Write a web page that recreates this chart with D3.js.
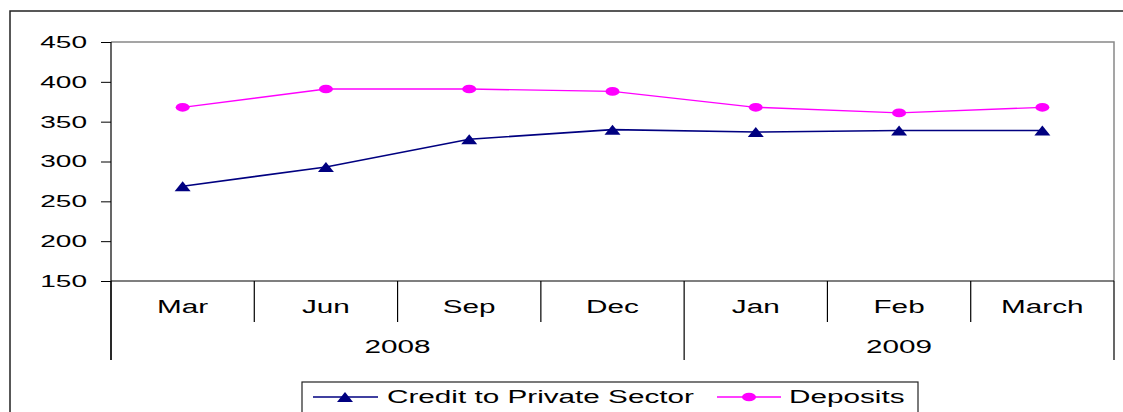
<html>
<head>
<meta charset="utf-8">
<script src="https://cdn.jsdelivr.net/npm/d3@7"></script>
<style>
  body { margin: 0; background: #fff; }
  text { font-family: "Liberation Sans", Arial, sans-serif; font-size: 18px; fill: #000; }
</style>
</head>
<body>
<script>
var months = ['Mar', 'Jun', 'Sep', 'Dec', 'Jan', 'Feb', 'March'];
var yearOf = ['2008', '2008', '2008', '2008', '2009', '2009', '2009'];
var credit = [269, 293, 328, 340, 337, 339, 339];
var deposits = [368, 391, 391, 388, 368, 361, 368];
var yTicks = [150, 200, 250, 300, 350, 400, 450];
var seriesNames = ['Credit to Private Sector', 'Deposits'];

var W = 1123, H = 412;
var sx = 1.65; // the original picture is stretched sideways
var plotL = 111, plotR = 1114, plotT = 42, plotB = 281;

var svg = d3.select('body').append('svg')
    .attr('width', W).attr('height', H);

// outer frame
svg.append('rect')
    .attr('x', 10).attr('y', 11)
    .attr('width', W + 20).attr('height', H + 20)
    .attr('fill', 'none').attr('stroke', '#222').attr('stroke-width', 1.5);

var x = d3.scaleBand().domain(months).range([plotL, plotR]);
var y = d3.scaleLinear().domain([150, 450]).range([plotB, plotT]);

// plot frame (grey top/right)
svg.append('path')
    .attr('d', 'M' + plotL + ',' + plotT + 'H' + plotR + 'V' + plotB)
    .attr('fill', 'none').attr('stroke', '#888').attr('stroke-width', 1.5);

// y axis
var yAxis = svg.append('g')
    .attr('transform', 'translate(' + plotL + ',0)')
    .call(d3.axisLeft(y).tickValues(yTicks).tickSize(10).tickPadding(0));
yAxis.select('.domain').remove();
yAxis.selectAll('line').attr('stroke', '#000');
yAxis.selectAll('text')
    .attr('x', -24 / sx)
    .attr('dy', '0.32em')
    .attr('transform', 'scale(' + sx + ',1)')
    .attr('font-size', null)
    .attr('font-family', null)
    .style('font-size', '17px');

// axis lines
svg.append('line').attr('x1', plotL).attr('x2', plotL).attr('y1', plotT).attr('y2', 360)
    .attr('stroke', '#000').attr('stroke-width', 1.2);
svg.append('line').attr('x1', plotL).attr('x2', plotR).attr('y1', plotB).attr('y2', plotB)
    .attr('stroke', '#000').attr('stroke-width', 1.2);

// category dividers
var bounds = months.map(function(m) { return x(m); }).concat([plotR]);
bounds.forEach(function(b, i) {
  var yearEdge = i === 0 || i === months.length || yearOf[i] !== yearOf[i - 1];
  svg.append('line')
      .attr('x1', b).attr('x2', b)
      .attr('y1', plotB).attr('y2', yearEdge ? 360 : 322)
      .attr('stroke', '#000').attr('stroke-width', 1.2);
});

function stretchedText(g, px, py, str, anchor) {
  return g.append('text')
      .attr('transform', 'translate(' + px + ',' + py + ') scale(' + sx + ',1)')
      .attr('text-anchor', anchor || 'middle')
      .text(str);
}

// month labels
months.forEach(function(m) {
  stretchedText(svg, x(m) + x.bandwidth() / 2, 313, m);
});

// year labels
var yearNames = Array.from(new Set(yearOf));
yearNames.forEach(function(yr) {
  var idx = months.filter(function(m, i) { return yearOf[i] === yr; });
  var x0 = x(idx[0]), x1 = x(idx[idx.length - 1]) + x.bandwidth();
  stretchedText(svg, (x0 + x1) / 2, 353, yr);
});

var cx = function(d, i) { return x(months[i]) + x.bandwidth() / 2; };
var line = d3.line().x(cx).y(function(d) { return y(d); });

var triangle = function(px, py) {
  return 'M' + (px - 8) + ',' + (py + 5) + 'L' + px + ',' + (py - 5) + 'L' + (px + 8) + ',' + (py + 5) + 'Z';
};

// credit
svg.append('path').datum(credit).attr('d', line)
    .attr('fill', 'none').attr('stroke', '#000080').attr('stroke-width', 1.6);
svg.selectAll('.tri').data(credit).enter().append('path')
    .attr('class', 'tri')
    .attr('d', function(d, i) { return triangle(cx(d, i), y(d)); })
    .attr('fill', '#000080');

// deposits
svg.append('path').datum(deposits).attr('d', line)
    .attr('fill', 'none').attr('stroke', '#FF00FF').attr('stroke-width', 1.4);
svg.selectAll('.dot').data(deposits).enter().append('ellipse')
    .attr('class', 'dot')
    .attr('cx', cx).attr('cy', function(d) { return y(d); })
    .attr('rx', 7).attr('ry', 4.3)
    .attr('fill', '#FF00FF');

// legend
var lg = svg.append('g');
lg.append('rect')
    .attr('x', 302).attr('y', 382).attr('width', 616).attr('height', 50)
    .attr('fill', '#fff').attr('stroke', '#222').attr('stroke-width', 1.2);
var ly = 397;
lg.append('line').attr('x1', 313).attr('x2', 378).attr('y1', ly).attr('y2', ly)
    .attr('stroke', '#000080').attr('stroke-width', 1.6);
lg.append('path').attr('d', triangle(345, ly)).attr('fill', '#000080');
stretchedText(lg, 387, ly + 6, seriesNames[0], 'start');
lg.append('line').attr('x1', 717).attr('x2', 781).attr('y1', ly).attr('y2', ly)
    .attr('stroke', '#FF00FF').attr('stroke-width', 1.4);
lg.append('ellipse').attr('cx', 749).attr('cy', ly).attr('rx', 7).attr('ry', 4.3)
    .attr('fill', '#FF00FF');
stretchedText(lg, 789, ly + 6, seriesNames[1], 'start');
</script>
</body>
</html>
